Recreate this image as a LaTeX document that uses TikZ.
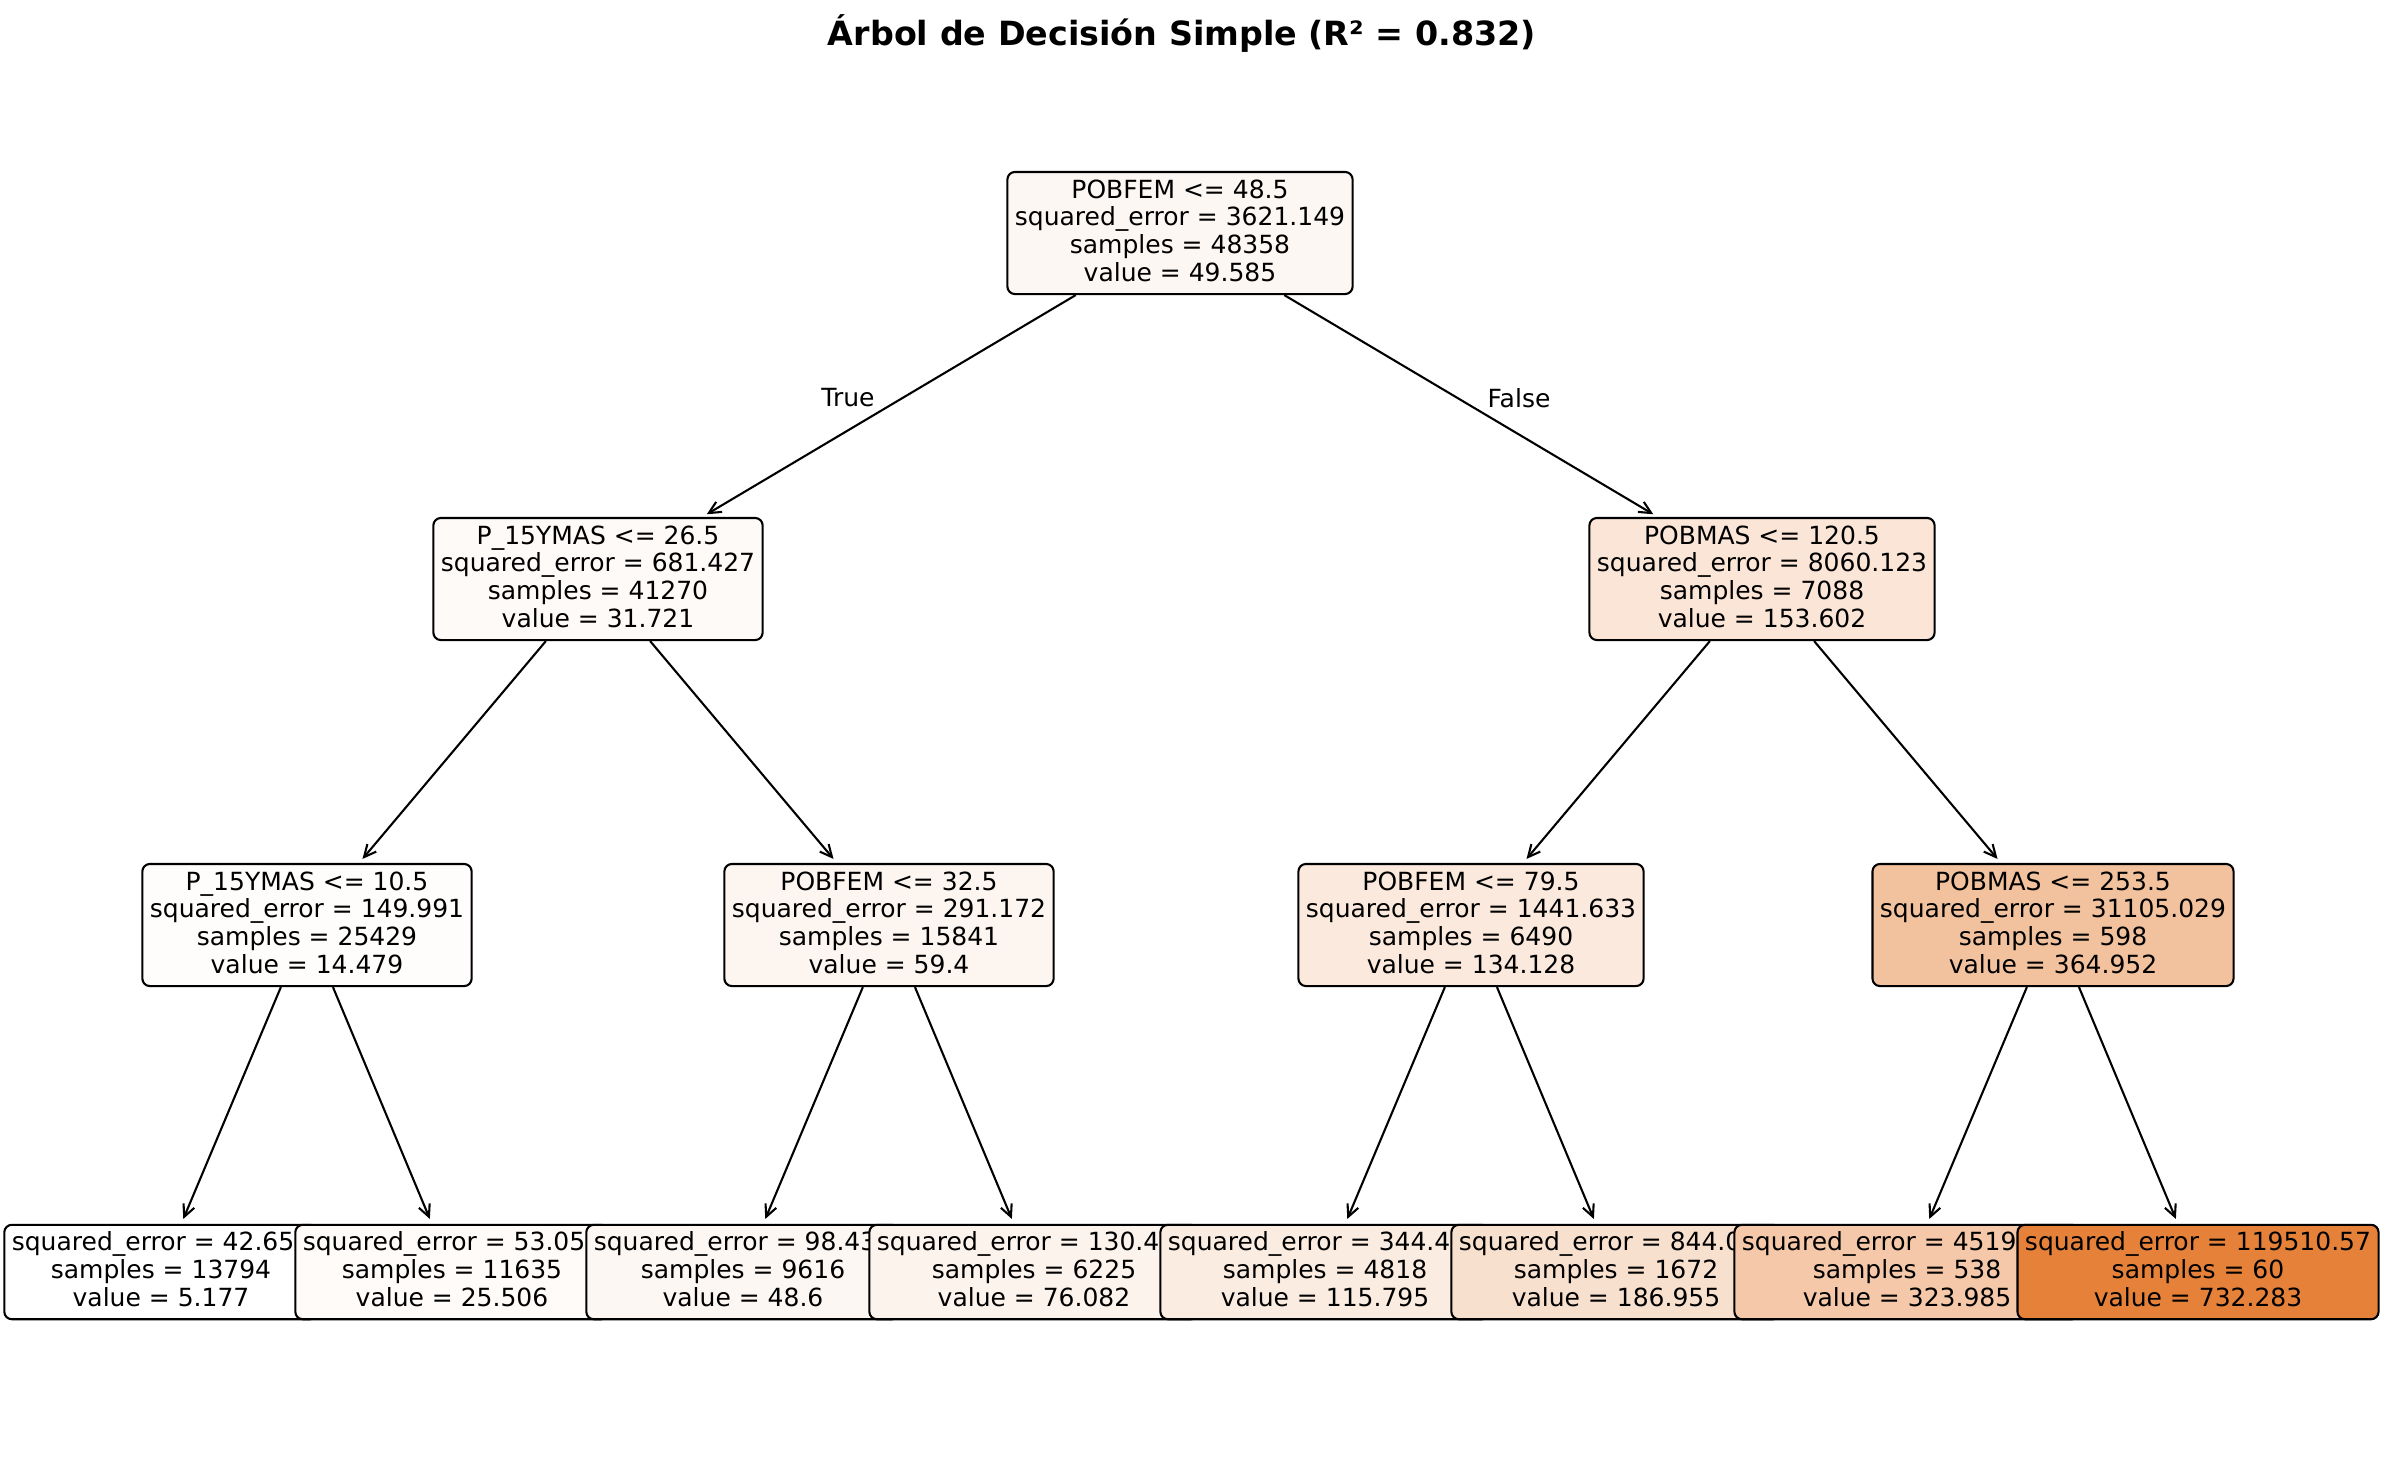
\documentclass[tikz,border=0pt]{standalone}
\usepackage{fontspec}
\setmainfont{DejaVu Sans}
\usetikzlibrary{arrows.meta}
\definecolor{cRoot}{RGB}{253,247,243}
\definecolor{cA}{RGB}{254,250,248}
\definecolor{cB}{RGB}{250,229,215}
\definecolor{cAA}{RGB}{255,253,252}
\definecolor{cAB}{RGB}{253,246,240}
\definecolor{cBA}{RGB}{250,233,220}
\definecolor{cBB}{RGB}{242,193,157}
\definecolor{cL1}{RGB}{255,255,255}
\definecolor{cL2}{RGB}{254,251,249}
\definecolor{cL3}{RGB}{253,247,243}
\definecolor{cL4}{RGB}{252,243,236}
\definecolor{cL5}{RGB}{251,236,225}
\definecolor{cL6}{RGB}{248,224,206}
\definecolor{cL7}{RGB}{244,200,168}
\definecolor{cL8}{RGB}{229,129,57}
\newcommand\tbox[1]{\vrule height 9.1pt width 0pt #1\vrule depth 2.8pt width 0pt}
\tikzset{
  treenode/.style={draw=black, line width=1pt, rounded corners=3.6pt,
    inner xsep=3.6pt, inner ysep=3.4pt, align=center,
    font=\fontsize{12}{13.3}\selectfont},
  edge/.style={line width=1pt, -{Straight Barb[length=5.8pt,width=5.6pt,line width=1pt]}, shorten >=2.5pt},
  lbl/.style={font=\fontsize{12}{14}\selectfont, inner sep=0pt}
}
\begin{document}
\begin{tikzpicture}[x=0.48pt, y=-0.48pt]
\useasboundingbox (0,0) rectangle (2387,1460);
\node[font=\fontsize{16}{19}\selectfont\bfseries, inner sep=0pt] (title) at (1182,34) {Árbol de Decisión Simple (R² = 0.832)};
% level 0
\node[treenode, fill=cRoot] (n0) at (1180,233) {\tbox{POBFEM <= 48.5\\squared\_error = 3621.149\\samples = 48358\\value = 49.585}};
% level 1
\node[treenode, fill=cA] (n1) at (598,579) {\tbox{P\_15YMAS <= 26.5\\squared\_error = 681.427\\samples = 41270\\value = 31.721}};
\draw[edge] (n0) -- (n1);
\node[lbl] (ltrue) at (848,398) {True};
\node[treenode, fill=cAA] (n2) at (307,925) {\tbox{P\_15YMAS <= 10.5\\squared\_error = 149.991\\samples = 25429\\value = 14.479}};
\draw[edge] (n1) -- (n2);
\node[treenode, fill=cL1] (l1) at (161,1272) {\tbox{squared\_error = 42.65\phantom{0}\\samples = 13794\\value = 5.177}};
\draw[edge] (n2) -- (l1);
\node[treenode, fill=cL2] (l2) at (452,1272) {\tbox{squared\_error = 53.05\phantom{0}\\samples = 11635\\value = 25.506}};
\draw[edge] (n2) -- (l2);
\node[treenode, fill=cAB] (n3) at (889,925) {\tbox{POBFEM <= 32.5\\squared\_error = 291.172\\samples = 15841\\value = 59.4}};
\draw[edge] (n1) -- (n3);
\node[treenode, fill=cL3] (l3) at (743,1272) {\tbox{squared\_error = 98.43\phantom{0}\\samples = 9616\\value = 48.6}};
\draw[edge] (n3) -- (l3);
\node[treenode, fill=cL4] (l4) at (1034,1272) {\tbox{squared\_error = 130.4\phantom{00}\\samples = 6225\\value = 76.082}};
\draw[edge] (n3) -- (l4);
% right subtree
\node[treenode, fill=cB] (n4) at (1762,579) {\tbox{POBMAS <= 120.5\\squared\_error = 8060.123\\samples = 7088\\value = 153.602}};
\draw[edge] (n0) -- (n4);
\node[lbl] (lfalse) at (1519,398) {False};
\node[treenode, fill=cBA] (n5) at (1471,925) {\tbox{POBFEM <= 79.5\\squared\_error = 1441.633\\samples = 6490\\value = 134.128}};
\draw[edge] (n4) -- (n5);
\node[treenode, fill=cL5] (l5) at (1325,1272) {\tbox{squared\_error = 344.4\phantom{00}\\samples = 4818\\value = 115.795}};
\draw[edge] (n5) -- (l5);
\node[treenode, fill=cL6] (l6) at (1616,1272) {\tbox{squared\_error = 844.0\phantom{00}\\samples = 1672\\value = 186.955}};
\draw[edge] (n5) -- (l6);
\node[treenode, fill=cBB] (n6) at (2053,925) {\tbox{POBMAS <= 253.5\\squared\_error = 31105.029\\samples = 598\\value = 364.952}};
\draw[edge] (n4) -- (n6);
\node[treenode, fill=cL7] (l7) at (1907,1272) {\tbox{squared\_error = 4519\phantom{.000}\\samples = 538\\value = 323.985}};
\draw[edge] (n6) -- (l7);
\node[treenode, fill=cL8] (l8) at (2198,1272) {\tbox{squared\_error = 119510.57\\samples = 60\\value = 732.283}};
\draw[edge] (n6) -- (l8);
\end{tikzpicture}
\end{document}
